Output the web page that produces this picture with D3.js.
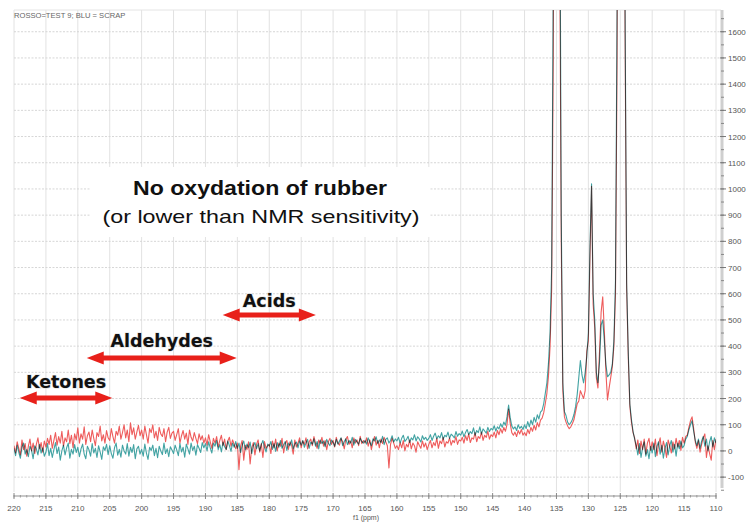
<!DOCTYPE html>
<html>
<head>
<meta charset="utf-8">
<script src="https://cdn.jsdelivr.net/npm/d3@7/dist/d3.min.js"></script>
<style>
  html, body { margin: 0; padding: 0; background: #fff; }
  svg { display: block; }
</style>
</head>
<body>
<svg id="chart" width="747" height="525"></svg>
<script>
// 13C NMR overlay: TEST 9 (red) vs SCRAP (blue), f1 from 220 to 110 ppm, 0.25 ppm per point
const ppmFirst = 220;
const ppmLast = 110;
const ppmStep = 0.25;

// Intensities, one block per 5 ppm (220 -> 215.25, 215 -> 210.25, ...), last block ends at 110
const test9 = [
  20, -8, 35, 10, -15, 42, 5, 28, -20, 18, 45, 0, 30, -10, 25, 50, 8, 32, -5, 38,
  15, 48, 25, 60, 10, 40, 70, 22, 55, 30, 75, 18, 50, 35, 80, 28, 60, 12, 65, 42,
  88, 30, 65, 45, 92, 25, 58, 72, 35, 80, 48, 20, 70, 55, 95, 38, 62, 30, 78, 50,
  40, 85, 55, 30, 75, 60, 95, 45, 70, 100, 50, 80, 35, 107, 62, 88, 45, 72, 98, 58,
  80, 45, 95, 62, 30, 85, 70, 100, 50, 75, 40, 90, 65, 55, 85, 35, 72, 90, 48, 68,
  75, 40, 62, 85, 30, 58, 78, 45, 68, 25, 80, 52, 38, 70, 48, 28, 65, 42, 58, 30,
  50, 22, 62, 35, 10, 48, 30, 55, 15, 40, 60, 20, 45, 5, 38, 52, 18, 42, 25, 8,
  30, -72, 18, 40, -35, 22, 5, 35, -50, 12, 32, -15, 25, 42, -5, 28, -25, 36, 10, 20,
  25, -10, 38, 12, 45, 0, 30, 18, 48, -8, 28, 40, 6, 35, 22, -12, 42, 15, 30, 50,
  12, 38, 25, 50, 8, 35, 45, 20, 55, 30, 10, 42, 28, 52, 18, 40, 5, 35, 48, 25,
  40, 15, 52, 30, 22, 48, 35, 8, 45, 55, 25, 38, 12, 50, 30, 42, 20, 56, 28, 40,
  30, 50, 18, 42, 5, 35, 55, 22, 40, 12, 45, 28, 52, 35, 20, -65, 25, 48, 30, 10,
  20, 5, 32, 12, 40, 0, 25, 15, 42, 8, 30, 20, -5, 35, 22, 10, 38, 15, 30, 5,
  25, 40, 12, 32, 20, 48, 10, 38, 28, 52, 15, 35, 30, 50, 22, 40, 32, 55, 25, 42,
  38, 52, 30, 58, 40, 65, 32, 50, 45, 70, 35, 55, 48, 72, 40, 60, 52, 75, 45, 62,
  55, 72, 50, 78, 62, 85, 68, 90, 75, 100, 160, 105, 70, 60, 72, 55, 78, 65, 82, 60,
  70, 58, 82, 66, 90, 75, 98, 80, 108, 92, 118, 125, 145, 180, 220, 285, 400, 620, 1500, 4000,
  9000, 4000, 2000, 800, 230, 130, 110, 95, 85, 92, 105, 120, 150, 180, 190, 230, 215, 200, 230, 380,
  420, 740, 1010, 560, 470, 280, 240, 380, 530, 588, 460, 300, 195, 240, 280, 320, 400, 600, 1500, 4000,
  9000, 8000, 3800, 1600, 620, 360, 170, 110, 70, 50, 8, 42, -10, 38, 5, 45, -12, 30, 48, 2,
  35, 5, 45, -18, 25, 50, -5, 38, 12, -25, 42, 20, -8, 35, 8, 48, 15, 40, 2, 52,
  30, 55, 60, 90, 115, 130, 85, 35, 10, 40, -5, 25, 50, 65, -25, 20, -10, -35, 40, 5, 45
];

const scrap = [
  10, -18, 22, -5, -28, 15, 30, -12, 5, -22, 18, 2, -30, 20, 8, -15, 25, -8, 12, -20,
  -5, 28, -18, 10, -25, 5, 32, -10, 15, -35, 0, 22, -15, 12, 30, -28, 6, -12, 24, -6,
  14, -22, 8, 26, -12, -30, 18, 4, -20, 28, -8, 10, -25, 20, -4, -32, 16, 2, 25, -14,
  20, -10, -28, 12, 30, -16, 6, -24, 22, 0, -12, 28, -20, 14, -6, 24, -30, 8, 18, -12,
  6, -20, 26, -8, -32, 14, 2, 22, -18, 10, -26, 18, 0, -14, 30, -10, 8, -22, 16, 4,
  -10, 22, 4, -18, 28, -4, 14, -24, 26, 8, -12, 30, 2, 18, -16, 24, 10, -6, 32, 12,
  28, 0, 35, 12, -8, 30, 18, 40, 5, 24, -4, 34, 16, 6, 38, 20, -2, 30, 14, 36,
  10, 30, -6, 22, 38, 4, 26, 12, 34, -10, 20, 32, 8, 28, 0, 24, 40, 14, -4, 26,
  18, 36, 6, 28, -2, 32, 14, 40, 10, 24, 36, 2, 30, 20, 42, 8, 26, 34, 12, 38,
  22, 40, 14, 30, 44, 10, 34, 26, 46, 18, 36, 8, 42, 28, 38, 16, 44, 30, 20, 42,
  32, 18, 44, 26, 38, 50, 20, 36, 46, 24, 40, 30, 52, 22, 44, 34, 26, 48, 36, 30,
  40, 26, 50, 34, 20, 46, 38, 54, 28, 42, 32, 56, 24, 44, 50, 30, 40, 58, 34, 46,
  38, 52, 30, 48, 60, 36, 44, 56, 32, 50, 42, 62, 38, 54, 46, 34, 58, 44, 52, 40,
  48, 62, 40, 56, 68, 46, 58, 50, 70, 44, 60, 54, 72, 48, 64, 58, 50, 74, 56, 66,
  60, 76, 54, 70, 82, 62, 74, 66, 88, 60, 78, 70, 92, 64, 84, 76, 68, 90, 74, 86,
  80, 96, 76, 92, 84, 104, 90, 110, 98, 130, 175, 128, 96, 84, 92, 78, 100, 86, 94, 82,
  100, 85, 112, 92, 118, 100, 128, 110, 138, 122, 148, 155, 180, 220, 260, 335, 455, 700, 1800, 4500,
  9000, 4500, 2400, 900, 260, 150, 135, 110, 100, 108, 120, 140, 170, 215, 280, 345, 290, 260, 300, 360,
  450, 780, 1020, 600, 500, 300, 260, 340, 480, 500, 420, 330, 283, 290, 300, 330, 420, 650, 1700, 4500,
  9000, 8000, 4000, 1700, 640, 380, 180, 120, 75, 45, 20, -15, 28, -25, 12, 35, -20, 5, -30, 18,
  -8, 30, -22, 18, 35, -12, 22, -28, 10, 32, -15, 20, 40, -5, 25, -20, 30, 8, 38, 12,
  20, 45, 55, 80, 100, 115, 75, 40, 20, 45, 10, 38, 55, 18, 45, 0, 35, 55, 15, 50, 30
];

// Axis ticks
const xTicks = [220, 215, 210, 205, 200, 195, 190, 185, 180, 175, 170, 165, 160, 155, 150, 145, 140, 135, 130, 125, 120, 115, 110];
const yTicks = [-100, 0, 100, 200, 300, 400, 500, 600, 700, 800, 900, 1000, 1100, 1200, 1300, 1400, 1500, 1600];

// Functional-group regions (ppm spans)
const regionNames = ["Ketones", "Aldehydes", "Acids"];
const regionSpans = [[219.1, 204.6], [208.6, 185.1], [187.3, 172.7]];

const legendText = "ROSSO=TEST 9; BLU = SCRAP";
const noteTitle = "No oxydation of rubber";
const noteSub = "(or lower than NMR sensitivity)";

// ---- layout ----
const plot = { left: 14, right: 716, top: 10, bottom: 496 };
const svg = d3.select("#chart");

const x = d3.scaleLinear().domain([ppmFirst, ppmLast]).range([plot.left, plot.right]);
const y = d3.scaleLinear().domain([-172, 1683]).range([plot.bottom, plot.top]);

const shifts = d3.range(0, test9.length).map(i => ppmFirst - i * ppmStep);

// grid
const grid = svg.append("g");
grid.selectAll("line.v").data(xTicks).join("line")
  .attr("x1", d => x(d)).attr("x2", d => x(d))
  .attr("y1", plot.top).attr("y2", plot.bottom - 4)
  .attr("stroke", "#e2e2e2").attr("stroke-width", 1);
grid.selectAll("line.h").data(yTicks).join("line")
  .attr("x1", plot.left).attr("x2", plot.right + 4)
  .attr("y1", d => y(d)).attr("y2", d => y(d))
  .attr("stroke", "#d6d6d6").attr("stroke-width", 1).attr("stroke-dasharray", "2,1.5");
grid.append("line")
  .attr("x1", plot.left).attr("x2", plot.right + 5)
  .attr("y1", plot.top).attr("y2", plot.top)
  .attr("stroke", "#e4e4e4");

// spectra
svg.append("defs").append("clipPath").attr("id", "plotClip")
  .append("rect").attr("x", plot.left).attr("y", plot.top)
  .attr("width", plot.right - plot.left).attr("height", plot.bottom - plot.top - 6);

const line = d3.line().x((d, i) => x(shifts[i])).y(d => y(d));
const traces = svg.append("g").attr("clip-path", "url(#plotClip)").style("isolation", "isolate");
traces.append("path").datum(scrap)
  .attr("d", line).attr("fill", "none")
  .attr("stroke", "#42a3a3").attr("stroke-width", 1.1).attr("stroke-linejoin", "round");
traces.append("path").datum(test9)
  .attr("d", line).attr("fill", "none")
  .attr("stroke", "#ee5c5c").attr("stroke-width", 1.1).attr("stroke-linejoin", "round")
  .style("mix-blend-mode", "multiply");

// bottom axis
const xAxisG = svg.append("g").attr("transform", `translate(0,${plot.bottom})`);
xAxisG.append("line").attr("x1", plot.left).attr("x2", plot.right)
  .attr("stroke", "#c8c8c8").attr("stroke-width", 2);
const minorX = d3.range(ppmFirst, ppmLast - 0.1, -1);
xAxisG.selectAll("line.mx").data(minorX).join("line")
  .attr("x1", d => x(d)).attr("x2", d => x(d))
  .attr("y1", -1).attr("y2", 1.5).attr("stroke", "#9a9a9a");
xAxisG.selectAll("line.tx").data(xTicks).join("line")
  .attr("x1", d => x(d)).attr("x2", d => x(d))
  .attr("y1", -3).attr("y2", 3).attr("stroke", "#888");
xAxisG.selectAll("text").data(xTicks).join("text")
  .attr("x", d => x(d)).attr("y", 15)
  .attr("text-anchor", "middle")
  .attr("font-family", "Liberation Sans, Arial, sans-serif")
  .attr("font-size", 8).attr("fill", "#555")
  .text(d => d);
svg.append("text").attr("x", 366).attr("y", 520)
  .attr("text-anchor", "middle")
  .attr("font-family", "Liberation Sans, Arial, sans-serif")
  .attr("font-size", 7).attr("fill", "#555")
  .text("f1 (ppm)");

// right axis
const axisX = 722;
const yAxisG = svg.append("g");
yAxisG.append("line").attr("x1", axisX).attr("x2", axisX)
  .attr("y1", plot.top).attr("y2", plot.bottom - 8)
  .attr("stroke", "#cfcfcf").attr("stroke-width", 3);
const minorY = d3.range(-150, 1700, 50);
yAxisG.selectAll("line.my").data(minorY).join("line")
  .attr("x1", axisX - 1).attr("x2", axisX + 2)
  .attr("y1", d => y(d)).attr("y2", d => y(d)).attr("stroke", "#888");
yAxisG.selectAll("line.ty").data(yTicks).join("line")
  .attr("x1", axisX - 2).attr("x2", axisX + 4)
  .attr("y1", d => y(d)).attr("y2", d => y(d)).attr("stroke", "#777");
yAxisG.selectAll("text").data(yTicks).join("text")
  .attr("x", axisX + 6).attr("y", d => y(d) + 3)
  .attr("font-family", "Liberation Sans, Arial, sans-serif")
  .attr("font-size", 8).attr("fill", "#555")
  .text(d => d);

// legend text, top-left
svg.append("text").attr("x", 14).attr("y", 18)
  .attr("font-family", "Liberation Sans, Arial, sans-serif")
  .attr("font-size", 7.6).attr("fill", "#666")
  .text(legendText);

// note box
const note = svg.append("g");
note.append("rect").attr("x", 90).attr("y", 167).attr("width", 340).attr("height", 70)
  .attr("fill", "#fff");
note.append("text").attr("x", 260).attr("y", 195)
  .attr("text-anchor", "middle")
  .attr("font-family", "Liberation Sans, Arial, sans-serif")
  .attr("font-weight", "bold").attr("font-size", 20).attr("fill", "#111")
  .attr("textLength", 254).attr("lengthAdjust", "spacingAndGlyphs")
  .text(noteTitle);
note.append("text").attr("x", 261).attr("y", 223)
  .attr("text-anchor", "middle")
  .attr("font-family", "Liberation Sans, Arial, sans-serif")
  .attr("font-size", 19).attr("fill", "#111")
  .attr("textLength", 317).attr("lengthAdjust", "spacingAndGlyphs")
  .text(noteSub);

// region arrows and labels
const arrowY = [398, 358, 315];
const labelY = [388, 347, 307];
function arrowPath(x1, x2, cy) {
  const h = 17, H = 6.5, s = 2.6;
  return [
    [x1, cy], [x1 + h, cy - H], [x1 + h, cy - s], [x2 - h, cy - s], [x2 - h, cy - H],
    [x2, cy], [x2 - h, cy + H], [x2 - h, cy + s], [x1 + h, cy + s], [x1 + h, cy + H]
  ].map(p => p.join(",")).join(" ");
}
const regions = svg.append("g");
regionNames.forEach((name, i) => {
  const [a, b] = regionSpans[i];
  regions.append("polygon")
    .attr("points", arrowPath(x(a), x(b), arrowY[i]))
    .attr("fill", "#e8201a");
  regions.append("text")
    .attr("x", (x(a) + x(b)) / 2).attr("y", labelY[i])
    .attr("text-anchor", "middle")
    .attr("font-family", "DejaVu Sans, Verdana, sans-serif")
    .attr("font-weight", "bold").attr("font-size", 17.5).attr("fill", "#111")
    .style("paint-order", "stroke").attr("stroke", "rgba(200,200,200,0.6)").attr("stroke-width", 1.2)
    .text(name);
});
</script>
</body>
</html>
